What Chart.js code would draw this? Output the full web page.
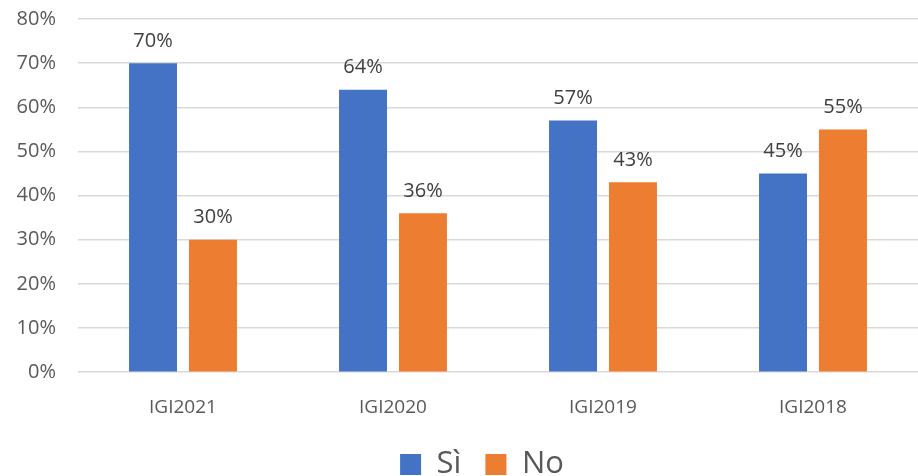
<!DOCTYPE html>
<html lang="it">
<head>
  <meta charset="UTF-8" />
  <title>IGI Sì / No</title>
  <script src="https://cdn.jsdelivr.net/npm/chart.js"></script>
  <style>
    body {
      margin: 0;
      background: #fff;
    }
    .wrap {
      width: 918px;
      height: 476px;
    }
  </style>
</head>
<body>
  <div class="wrap"><canvas id="chart"></canvas></div>

  <script>
    const categories = ["IGI2021", "IGI2020", "IGI2019", "IGI2018"];
    const siValues = [70, 64, 57, 45];
    const noValues = [30, 36, 43, 55];
    const seriesNames = ["Sì", "No"];

    const fontFamily = "'Open Sans', 'Noto Sans', sans-serif";

    // etichette sopra le barre
    const valueLabels = {
      id: "valueLabels",
      afterDatasetsDraw(chart) {
        const ctx = chart.ctx;
        ctx.save();
        ctx.font = "20px " + fontFamily;
        ctx.fillStyle = "#404040";
        ctx.textAlign = "center";
        ctx.textBaseline = "bottom";
        chart.data.datasets.forEach((ds, i) => {
          chart.getDatasetMeta(i).data.forEach((bar, j) => {
            ctx.fillText(ds.data[j] + "%", bar.x, bar.y - 12);
          });
        });
        ctx.restore();
      }
    };

    // sposta un po' la legenda (come nel grafico Excel)
    const legendShift = {
      id: "legendShift",
      afterLayout(chart) {
        const lg = chart.legend;
        lg.left += 23; lg.right += 23;
        lg.top -= 10; lg.bottom -= 10;
      }
    };

    new Chart(document.getElementById("chart"), {
      type: "bar",
      data: {
        labels: categories,
        datasets: [
          { label: seriesNames[0], data: siValues, backgroundColor: "#4472C4" },
          { label: seriesNames[1], data: noValues, backgroundColor: "#ED7D31" }
        ]
      },
      options: {
        responsive: true,
        maintainAspectRatio: false,
        animation: false,
        layout: { padding: { top: 0, right: 0, bottom: -24, left: 0 } },
        datasets: {
          bar: { barPercentage: 0.8, categoryPercentage: 0.571 }
        },
        scales: {
          x: {
            grid: { display: false },
            border: { display: false },
            ticks: { color: "#595959", font: { family: fontFamily, size: 19 }, padding: 16 }
          },
          y: {
            min: 0,
            max: 80,
            afterFit(scale) {
              scale.width = 78;
              scale.paddingTop = 19;
              scale.paddingBottom = 0;
            },
            grid: { color: "#D9D9D9", lineWidth: 1.5, drawTicks: false },
            border: { display: false },
            ticks: {
              stepSize: 10,
              padding: 22,
              color: "#595959",
              font: { family: fontFamily, size: 20 },
              callback: v => v + "%"
            }
          }
        },
        plugins: {
          tooltip: { enabled: false },
          legend: {
            position: "bottom",
            labels: {
              boxWidth: 21,
              boxHeight: 21,
              padding: 24,
              color: "#595959",
              font: { family: fontFamily, size: 31 }
            }
          }
        }
      },
      plugins: [valueLabels, legendShift]
    });
  </script>
</body>
</html>
